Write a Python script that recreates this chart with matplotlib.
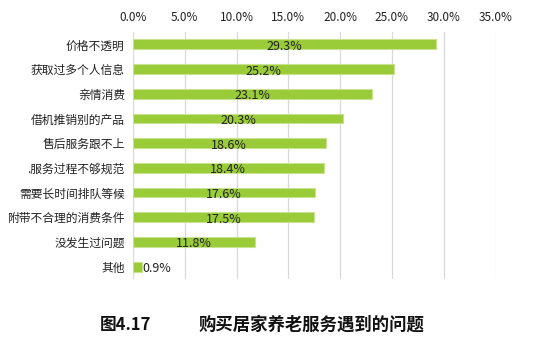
import matplotlib
matplotlib.use("Agg")
import matplotlib.pyplot as plt
from matplotlib.ticker import FuncFormatter

plt.rcParams['font.family'] = ['Noto Sans CJK SC', 'DejaVu Sans']

categories = ["价格不透明", "获取过多个人信息", "亲情消费", "借机推销别的产品",
              "售后服务跟不上", ".服务过程不够规范", "需要长时间排队等候",
              "附带不合理的消费条件", "没发生过问题", "其他"]
values = [29.3, 25.2, 23.1, 20.3, 18.6, 18.4, 17.6, 17.5, 11.8, 0.9]
xticks = [0, 5, 10, 15, 20, 25, 30, 35]

fig = plt.figure(figsize=(5.49, 3.45), dpi=100)
ax = fig.add_axes([0.2423, 0.1913, 0.6603, 0.7159])

ypos = list(range(len(categories)))
ax.barh(ypos, values, height=0.4, color="#9ACB38", edgecolor="#C8E28F", linewidth=0.8, zorder=3)

# value labels, centred in the bar (small ones sit just past the end)
for y, v in zip(ypos, values):
    if v < 3:
        ax.text(v + 0.05, y + 0.08, f"{v:.1f}%", ha="left", va="center", fontsize=9, color="#222222", zorder=4)
    else:
        ax.text(v / 2, y + 0.08, f"{v:.1f}%", ha="center", va="center", fontsize=9, color="#222222", zorder=4)

ax.set_xlim(0, 35)
ax.set_ylim(len(categories) - 0.5, -0.5)
ax.set_xticks(xticks)
ax.xaxis.set_major_formatter(FuncFormatter(lambda x, p: f"{x:.1f}%"))
ax.xaxis.tick_top()
ax.set_yticks(ypos)
ax.set_yticklabels(categories)
ax.tick_params(axis="x", length=0, pad=6, labelsize=8.5, colors="#222222")
ax.tick_params(axis="y", length=0, pad=6, labelsize=8.5, colors="#222222")
ax.grid(axis="x", color="#D9D9D9", linewidth=0.9, zorder=0)
for s in ax.spines.values():
    s.set_visible(False)

fig.text(0.228, 0.058, "图4.17", ha="center", va="center", fontsize=12, fontweight="bold", color="#111111")
fig.text(0.567, 0.058, "购买居家养老服务遇到的问题", ha="center", va="center", fontsize=12.5, fontweight="bold", color="#111111")

fig.savefig("out.png", dpi=100)
